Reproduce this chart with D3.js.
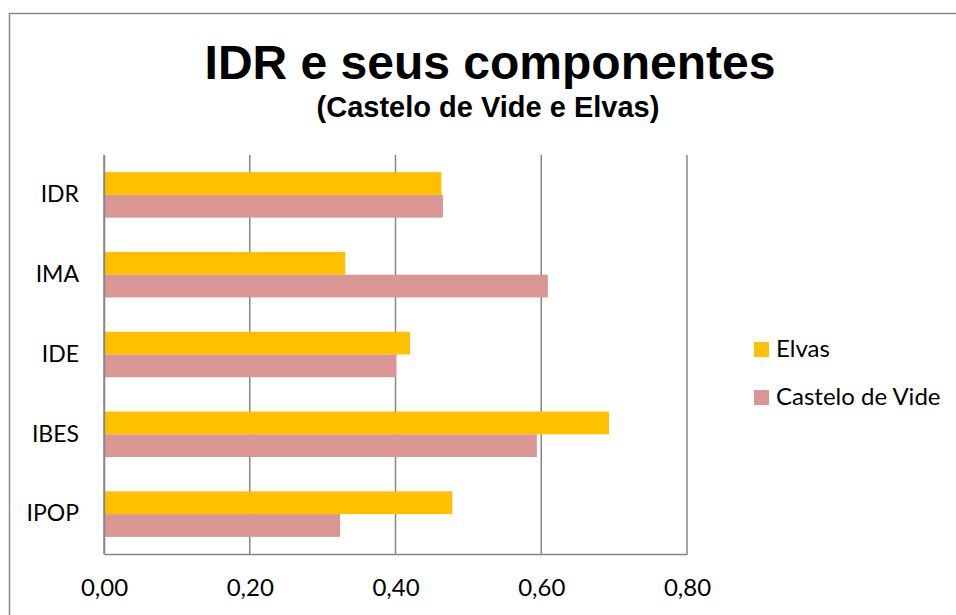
<!DOCTYPE html>
<html>
<head>
<meta charset="utf-8">
<script src="https://cdn.jsdelivr.net/npm/d3@7"></script>
<style>
  body { margin: 0; background: #fff; }
  svg { display: block; }
</style>
</head>
<body>
<div id="chart"></div>
<script>
//categories, top to bottom
var categories = ["IDR", "IMA", "IDE", "IBES", "IPOP"];
//series values
var elvas = [0.463, 0.331, 0.420, 0.693, 0.478];
var casteloDeVide = [0.465, 0.609, 0.401, 0.594, 0.324];
var seriesNames = ["Elvas", "Castelo de Vide"];
var seriesColors = ["#FFC000", "#D99694"];
//x axis ticks
var tickValues = [0, 0.2, 0.4, 0.6, 0.8];

var width = 956, height = 615;
var margin = {top: 155, left: 104};
var plotW = 583, plotH = 399;

var svg = d3.select("#chart").append("svg")
    .attr("width", width)
    .attr("height", height);

//outer frame of the chart
svg.append("rect")
    .attr("x", 9.5).attr("y", 13.5)
    .attr("width", width).attr("height", height)
    .attr("fill", "none")
    .attr("stroke", "#888")
    .attr("stroke-width", 1.5);

//titles
svg.append("text")
    .attr("x", 490).attr("y", 79)
    .attr("text-anchor", "middle")
    .style("font-family", "'Liberation Sans', Arial, sans-serif")
    .style("font-weight", "bold")
    .style("font-size", "48px")
    .text("IDR e seus componentes");
svg.append("text")
    .attr("x", 488).attr("y", 117)
    .attr("text-anchor", "middle")
    .style("font-family", "'Liberation Sans', Arial, sans-serif")
    .style("font-weight", "bold")
    .style("font-size", "29px")
    .text("(Castelo de Vide e Elvas)");

var g = svg.append("g")
    .attr("transform", "translate(" + margin.left + "," + margin.top + ")");

var xScale = d3.scaleLinear().domain([0, 0.8]).range([0, plotW]);
var yScale = d3.scaleBand().domain(categories).range([0, plotH])
    .paddingInner(0.43).paddingOuter(0.215);
var ySub = d3.scaleBand().domain(seriesNames).range([0, yScale.bandwidth()]);

//vertical gridlines
g.selectAll(".grid")
    .data(tickValues)
    .enter().append("line")
    .attr("class", "grid")
    .attr("x1", function(d) { return xScale(d); })
    .attr("x2", function(d) { return xScale(d); })
    .attr("y1", 0).attr("y2", plotH)
    .attr("stroke", "#868686")
    .attr("stroke-width", 1.5);

//bars
var rows = categories.map(function(c, i) {
  return {cat: c, values: [elvas[i], casteloDeVide[i]]};
});
var groups = g.selectAll(".group")
    .data(rows)
    .enter().append("g")
    .attr("transform", function(d) { return "translate(0," + yScale(d.cat) + ")"; });
groups.selectAll("rect")
    .data(function(d) { return d.values.map(function(v, j) { return {name: seriesNames[j], value: v, color: seriesColors[j]}; }); })
    .enter().append("rect")
    .attr("x", xScale(0) + 1)
    .attr("y", function(d) { return ySub(d.name); })
    .attr("width", function(d) { return xScale(d.value) - xScale(0) - 1; })
    .attr("height", ySub.bandwidth())
    .attr("fill", function(d) { return d.color; });

//x axis at the bottom
var xAxis = d3.axisBottom(xScale)
    .tickValues(tickValues)
    .tickSize(0)
    .tickPadding(25)
    .tickFormat(function(d) { return d3.format(".2f")(d).replace(".", ","); });
var xg = g.append("g")
    .attr("transform", "translate(0," + plotH + ")")
    .call(xAxis);
xg.select(".domain").attr("stroke", "#868686").attr("stroke-width", 1.5);
xg.selectAll("text")
    .attr("fill", "#000")
    .style("font-family", "Lato, 'Open Sans', sans-serif")
    .style("font-size", "24px");

//y axis on the left
var yAxis = d3.axisLeft(yScale).tickSize(0).tickPadding(25);
var yg = g.append("g").call(yAxis);
yg.select(".domain").attr("stroke", "#868686").attr("stroke-width", 1.5);
yg.selectAll("text")
    .attr("fill", "#000")
    .style("font-family", "Lato, 'Open Sans', sans-serif")
    .style("font-size", "23px");

//legend
var legend = svg.selectAll(".legend")
    .data(seriesNames)
    .enter().append("g")
    .attr("transform", function(d, i) { return "translate(754," + (342 + i * 48) + ")"; });
legend.append("rect")
    .attr("width", 15).attr("height", 15)
    .attr("fill", function(d, i) { return seriesColors[i]; });
legend.append("text")
    .attr("x", 22).attr("y", 15)
    .style("font-family", "Lato, 'Open Sans', sans-serif")
    .style("font-size", "24px")
    .text(function(d) { return d; });
</script>
</body>
</html>
